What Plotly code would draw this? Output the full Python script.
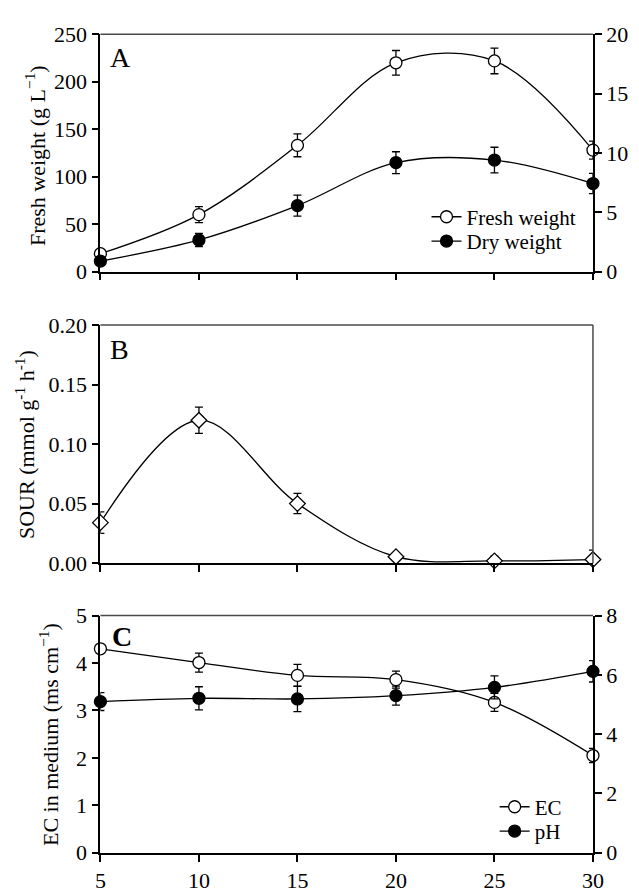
import plotly.graph_objects as go

# ---------------- data ----------------
days = [5, 10, 15, 20, 25, 30]

fresh_weight = [18.8, 60, 133, 220, 222, 128]
fresh_err = [3, 8.5, 12, 13, 13.5, 9.5]
dry_weight = [0.88, 2.66, 5.56, 9.18, 9.4, 7.42]
dry_err = [0.3, 0.55, 0.88, 0.92, 1.08, 0.85]

sour = [0.034, 0.120, 0.050, 0.0054, 0.0019, 0.003]
sour_err = [0.009, 0.011, 0.0085, 0.0, 0.004, 0.008]

ec = [4.30, 4.01, 3.74, 3.65, 3.17, 2.05]
ec_err = [0.0, 0.2, 0.23, 0.18, 0.19, 0.15]
ph = [5.10, 5.21, 5.19, 5.30, 5.58, 6.12]
ph_err = [0.3, 0.39, 0.43, 0.32, 0.39, 0.36]

x_ticks = [5, 10, 15, 20, 25, 30]

# ---------------- layout geometry ----------------
W, H = 639, 893
FONT = "Liberation Serif"
FS = 22
LFS = 21


def px_x(p):
    return p / W


def px_y(p):
    return 1 - p / H


xdom = [px_x(97), px_x(603)]
domA = [px_y(267), px_y(23)]
domB = [px_y(567), px_y(322)]
domC = [px_y(865), px_y(621)]

fig = go.Figure()

line_style = dict(color="black", width=1.3, shape="spline", smoothing=1.0)
open_marker = dict(symbol="circle", size=12, color="white", line=dict(color="black", width=1.3))
fill_marker = dict(symbol="circle", size=12, color="black", line=dict(color="black", width=1.3))


def err(arr):
    return dict(type="data", array=arr, color="black", thickness=1.3, width=4)


# Panel A
fig.add_trace(go.Scatter(x=days, y=fresh_weight, mode="lines+markers", name="Fresh weight",
                         line=line_style, marker=open_marker, error_y=err(fresh_err),
                         xaxis="x", yaxis="y", legend="legend", cliponaxis=False))
fig.add_trace(go.Scatter(x=days, y=dry_weight, mode="lines+markers", name="Dry weight",
                         line=line_style, marker=fill_marker, error_y=err(dry_err),
                         xaxis="x", yaxis="y2", legend="legend2", cliponaxis=False))
# Panel B
fig.add_trace(go.Scatter(x=days, y=sour, mode="lines+markers", name="SOUR", showlegend=False,
                         line=line_style,
                         marker=dict(symbol="diamond", size=12, color="white",
                                     line=dict(color="black", width=1.3)),
                         error_y=err(sour_err), xaxis="x2", yaxis="y3", cliponaxis=False))
# Panel C
fig.add_trace(go.Scatter(x=days, y=ec, mode="lines+markers", name="EC",
                         line=line_style, marker=open_marker, error_y=err(ec_err),
                         xaxis="x3", yaxis="y4", legend="legend3", cliponaxis=False))
fig.add_trace(go.Scatter(x=days, y=ph, mode="lines+markers", name="pH",
                         line=line_style, marker=fill_marker, error_y=err(ph_err),
                         xaxis="x3", yaxis="y5", legend="legend4", cliponaxis=False))

axis_common = dict(showline=True, linecolor="black", linewidth=1.8, ticks="outside",
                   ticklen=7, tickwidth=1.5, tickcolor="black", showgrid=False,
                   zeroline=False, tickfont=dict(family=FONT, size=FS, color="black"))

xcommon = dict(axis_common, range=[5, 30], tickvals=x_ticks, domain=xdom)


def legend_at(xp, yp):
    return dict(x=px_x(xp), y=px_y(yp), xanchor="left", yanchor="middle",
                bgcolor="rgba(0,0,0,0)", borderwidth=0,
                font=dict(family=FONT, size=LFS, color="black"))


fig.update_layout(
    width=W, height=H, autosize=False,
    margin=dict(l=0, r=0, t=0, b=0),
    paper_bgcolor="white", plot_bgcolor="white",
    font=dict(family=FONT, size=FS, color="black"),
    xaxis=dict(xcommon, anchor="y", showticklabels=False),
    yaxis=dict(axis_common, domain=domA, range=[0, 250], tickvals=[0, 50, 100, 150, 200, 250],
               anchor="x"),
    yaxis2=dict(axis_common, overlaying="y", side="right", range=[0, 20],
                tickvals=[0, 5, 10, 15, 20], anchor="x"),
    xaxis2=dict(xcommon, anchor="y3", showticklabels=False),
    yaxis3=dict(axis_common, domain=domB, range=[0, 0.2], tickvals=[0, 0.05, 0.10, 0.15, 0.20],
                tickformat=".2f", anchor="x2"),
    xaxis3=dict(xcommon, anchor="y4", showticklabels=True),
    yaxis4=dict(axis_common, domain=domC, range=[0, 5], tickvals=[0, 1, 2, 3, 4, 5], anchor="x3"),
    yaxis5=dict(axis_common, overlaying="y4", side="right", range=[0, 8],
                tickvals=[0, 2, 4, 6, 8], anchor="x3"),
    legend=legend_at(432, 211),
    legend2=legend_at(432, 236),
    legend3=legend_at(502, 818),
    legend4=legend_at(502, 843),
)

# thin grey frame lines (top of each panel, right of panel B)
frame = dict(color="#4a4a4a", width=1.5)
for xr, yr in [("x", "y"), ("x2", "y3"), ("x3", "y4")]:
    fig.add_shape(type="line", xref=f"{xr} domain", yref=f"{yr} domain",
                  x0=0, x1=1, y0=1, y1=1, line=frame, layer="above")
fig.add_shape(type="line", xref="x2 domain", yref="y3 domain",
              x0=1, x1=1, y0=0, y1=1, line=frame, layer="above")

annots = [
    dict(text="A", x=px_x(118), y=px_y(47), size=28),
    dict(text="B", x=px_x(117), y=px_y(347), size=28),
    dict(text="<b>C</b>", x=px_x(119), y=px_y(643), size=28),
]
for a in annots:
    fig.add_annotation(text=a["text"], x=a["x"], y=a["y"], xref="paper", yref="paper",
                       showarrow=False, xanchor="center", yanchor="middle",
                       font=dict(family=FONT, size=a["size"], color="black"))

titles = [
    ("Fresh weight (g L<sup>\u22121</sup>)", 30, 148),
    ("SOUR (mmol g<sup>-1</sup> h<sup>-1</sup>)", 19, 445),
    ("EC in medium (ms cm<sup>\u22121</sup>)", 44, 743),
]
for t, xp, yp in titles:
    fig.add_annotation(text=t, x=px_x(xp), y=px_y(yp), xref="paper", yref="paper",
                       showarrow=False, textangle=-90, xanchor="center", yanchor="middle",
                       font=dict(family=FONT, size=FS, color="black"))

fig.write_html("out.html", config={"displayModeBar": False},
               post_script="document.body.style.margin='0';")
